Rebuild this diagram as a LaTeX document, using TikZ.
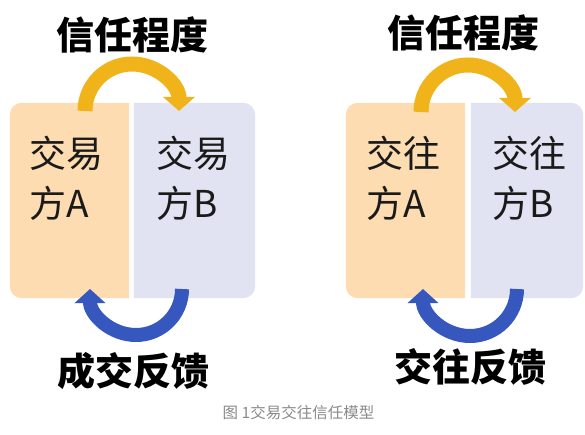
\documentclass[tikz,border=0pt]{standalone}
\usepackage{fontspec}
\newfontfamily\cjk{Noto Sans CJK SC}
\usetikzlibrary{arrows.meta}
\definecolor{boxA}{HTML}{FCDCB0}
\definecolor{boxB}{HTML}{E1E3F2}
\definecolor{arrY}{HTML}{F0B41A}
\definecolor{arrB}{HTML}{3557BE}
\definecolor{capgray}{HTML}{8A8A8A}
\definecolor{txt}{HTML}{1A1A1A}
\begin{document}
\begin{tikzpicture}[x=1pt,y=-1pt,
  box/.style={draw=none,inner sep=0,minimum height=195pt},
  boxtext/.style={anchor=base west,inner sep=0,text=txt,font=\cjk\fontsize{37}{40}\selectfont},
  title/.style={anchor=base,inner sep=0,text=black,font=\cjk\bfseries\fontsize{38}{40}\selectfont},
  caption/.style={anchor=base,inner sep=0,text=capgray,font=\cjk\fontsize{15.5}{17}\selectfont},
  yarrow/.style={draw=arrY,line width=15pt,-{Triangle[width=31pt,length=14pt]}},
  barrow/.style={draw=arrB,line width=14pt,-{Triangle[width=30pt,length=14pt]}},
  leftfill/.style={fill=boxA},
  rightfill/.style={fill=boxB}
]
\useasboundingbox[fill=white] (0,0) rectangle (585,435);

% ---------- left diagram ----------
\node[box,minimum width=119pt] (A1) at (69.5,200.5) {};
\node[box,minimum width=121pt] (B1) at (194.5,200.5) {};
\fill[leftfill] (A1.north east) [rounded corners=12pt] -- (A1.north west) -- (A1.south west) [sharp corners] -- (A1.south east) -- cycle;
\fill[rightfill] (B1.north west) [rounded corners=12pt] -- (B1.north east) -- (B1.south east) [sharp corners] -- (B1.south west) -- cycle;
\node[boxtext] (A1t1) at (29,168) {交易};
\node[boxtext] (A1t2) at (29,218) {方A};
\node[boxtext] (B1t1) at (156,168) {交易};
\node[boxtext] (B1t2) at (156,218) {方B};
\node[title] (T1) at (132.5,50) {信任程度};
\node[title] (F1) at (133.5,385) {成交反馈};
\coordinate (y1s) at (85,111);
\coordinate (b1s) at (182,289);
\draw[yarrow] (y1s) arc[start angle=180,end angle=360,radius=47];
\draw[barrow] (b1s) arc[start angle=0,end angle=180,radius=46];

% ---------- right diagram ----------
\node[box,minimum width=119pt] (A2) at (405.5,200.5) {};
\node[box,minimum width=112pt] (B2) at (527,200.5) {};
\fill[leftfill] (A2.north east) [rounded corners=12pt] -- (A2.north west) -- (A2.south west) [sharp corners] -- (A2.south east) -- cycle;
\fill[rightfill] (B2.north west) [rounded corners=12pt] -- (B2.north east) -- (B2.south east) [sharp corners] -- (B2.south west) -- cycle;
\node[boxtext] (A2t1) at (366,168) {交往};
\node[boxtext] (A2t2) at (366,218) {方A};
\node[boxtext] (B2t1) at (492,168) {交往};
\node[boxtext] (B2t2) at (492,218) {方B};
\node[title] (T2) at (463.5,48) {信任程度};
\node[title] (F2) at (470.5,381) {交往反馈};
\coordinate (y2s) at (421,112);
\coordinate (b2s) at (517,289);
\draw[yarrow] (y2s) arc[start angle=180,end angle=360,radius=47];
\draw[barrow] (b2s) arc[start angle=0,end angle=180,radius=47];

% ---------- caption ----------
\node[caption] (cap) at (298.5,418) {图 1交易交往信任模型};
\end{tikzpicture}
\end{document}
